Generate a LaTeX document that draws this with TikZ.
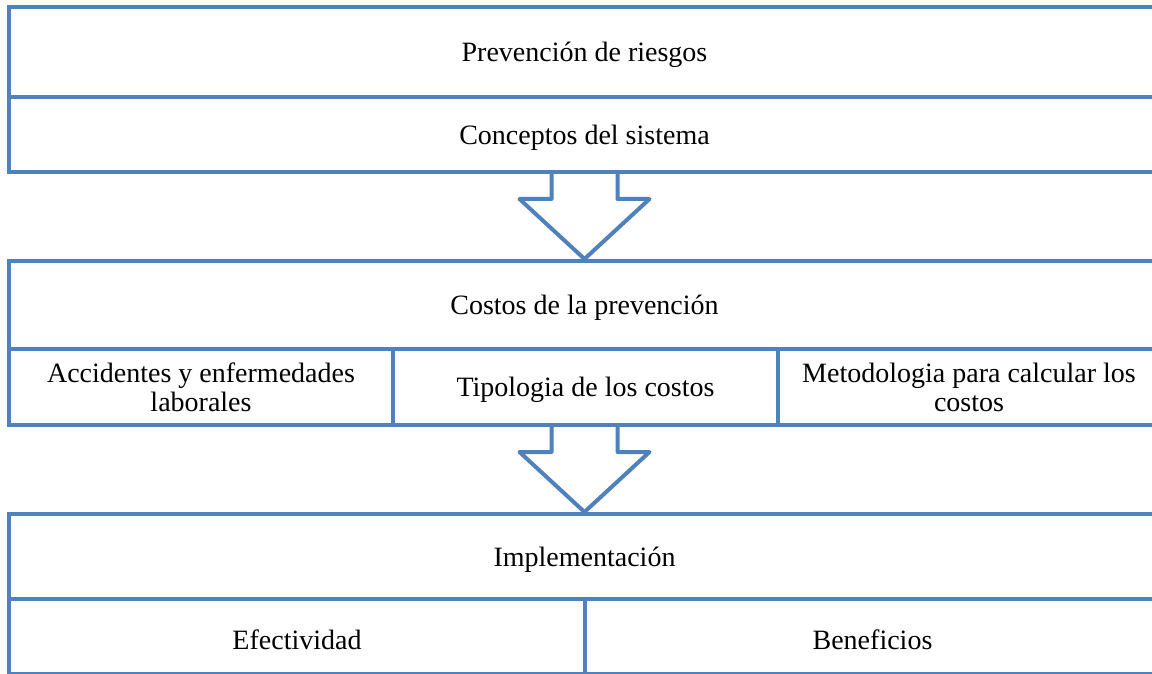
\documentclass[tikz,border=0pt]{standalone}
\usepackage{fontspec}
\setmainfont{Liberation Serif}
\usetikzlibrary{calc,backgrounds}
\definecolor{lineblue}{HTML}{4F81BD}
\newcommand\lowtxt[1]{\raisebox{-1.5pt}[\height][\depth]{#1}}
\newcommand\blockarrow[2]{%
  \begin{pgfonlayer}{background}
  \draw[barrow] let \p1=(#1.south), \p2=(#2.north) in
    (\x2-16.5pt,\y1) -- (\x2-16.5pt,\y1-12.5pt) -- (\x2-32.5pt,\y1-12.5pt)
    -- (\x2,\y2) -- (\x2+32.5pt,\y1-12.5pt) -- (\x2+16.5pt,\y1-12.5pt)
    -- (\x2+16.5pt,\y1);
  \end{pgfonlayer}}
\begin{document}
\begin{tikzpicture}[x=0.5pt,y=-0.5pt,
  cell/.style={draw=lineblue, line width=2pt, rectangle, inner sep=0pt,
    align=center, font=\fontsize{14}{14.5}\selectfont},
  barrow/.style={draw=lineblue, line width=2pt, fill=white, line join=round}]
\path[use as bounding box] (0,0) rectangle (1152,674);
\clip (0,0) rectangle (1152,674);
% block 1
\node[cell, minimum width=575.5pt, minimum height=45pt] (prev) at (584.5,52) {\lowtxt{Prevención de riesgos}};
\node[cell, minimum width=575.5pt, minimum height=37.5pt] (conc) at (584.5,134.5) {\lowtxt{Conceptos del sistema}};
% block 2
\node[cell, minimum width=575.5pt, minimum height=44pt] (cost) at (584.5,305) {\lowtxt{Costos de la prevención}};
\node[cell, minimum width=192pt, minimum height=38pt] (acc) at (201,387) {Accidentes y enfermedades\\laborales};
\node[cell, minimum width=192.5pt, minimum height=38pt] (tip) at (585.5,387) {\lowtxt{Tipologia de los costos}};
\node[cell, minimum width=191pt, minimum height=38pt] (met) at (969,387) {Metodologia para calcular los\\costos};
% block 3
\node[cell, minimum width=575.5pt, minimum height=42.5pt] (impl) at (584.5,556.5) {\lowtxt{Implementación}};
\node[cell, minimum width=288pt, minimum height=37.5pt] (efec) at (297,636.5) {\lowtxt{Efectividad}};
\node[cell, minimum width=287.5pt, minimum height=37.5pt] (bene) at (872.5,636.5) {\lowtxt{Beneficios}};
% block arrows
\blockarrow{conc}{cost}
\blockarrow{tip}{impl}
\end{tikzpicture}
\end{document}
